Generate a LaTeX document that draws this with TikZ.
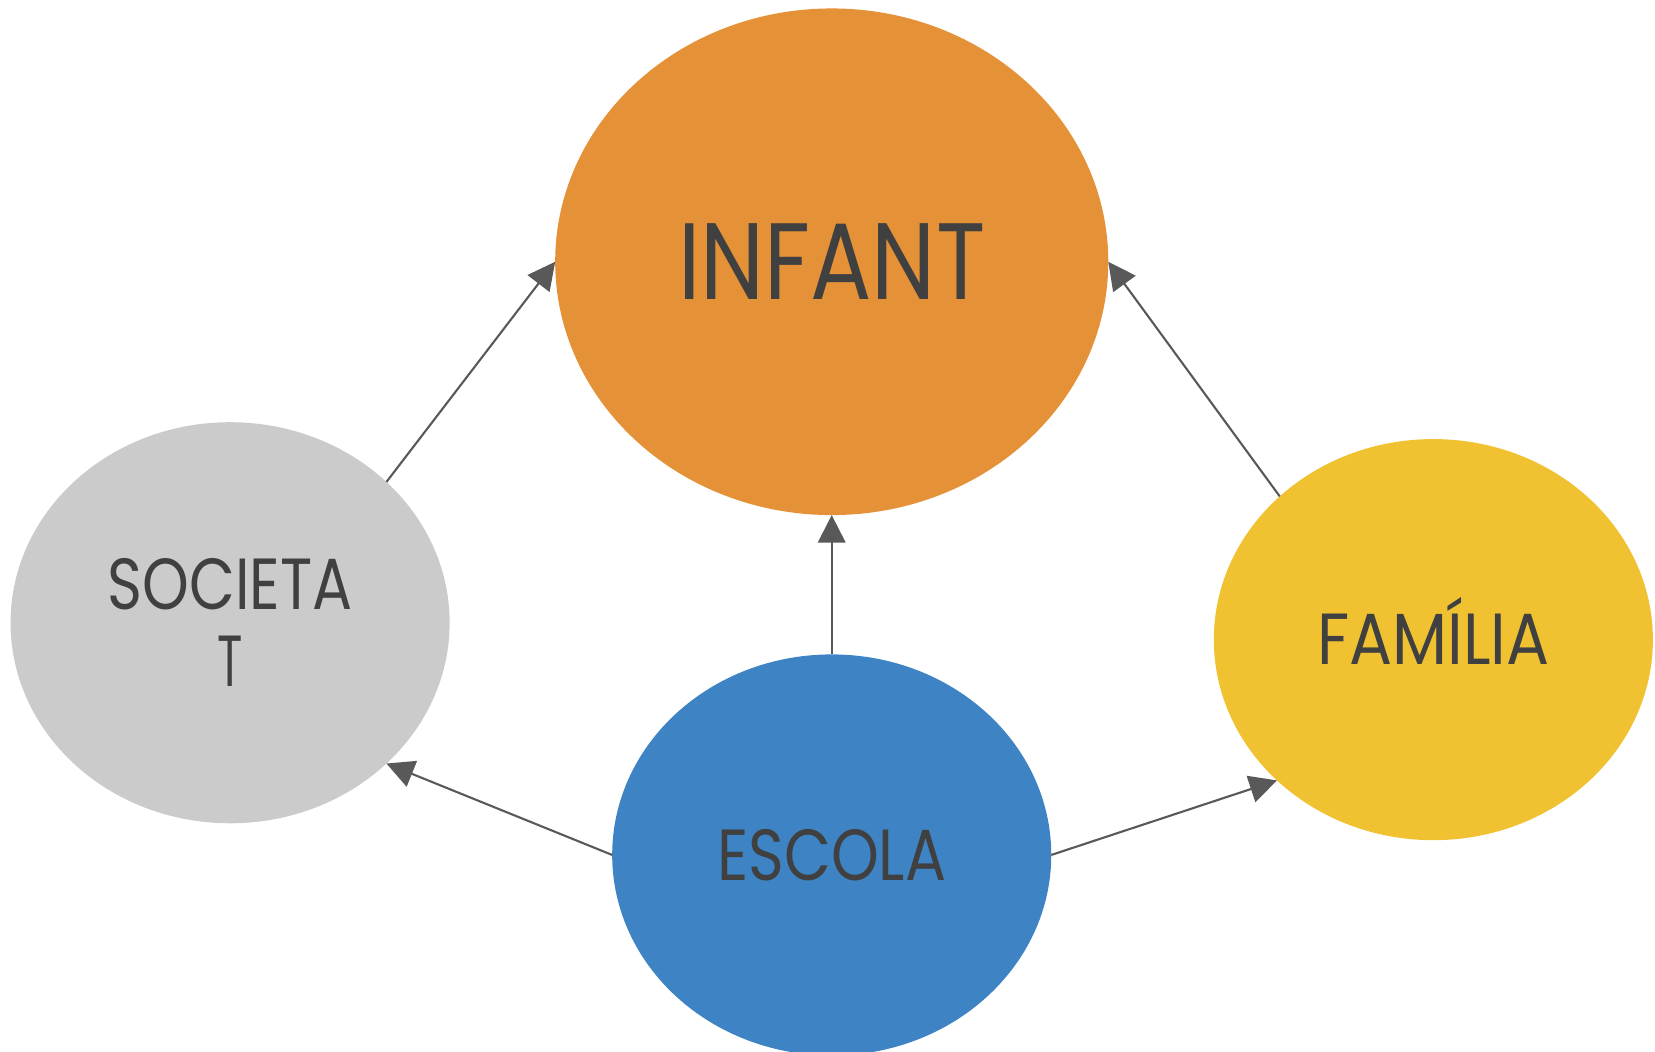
\documentclass[tikz,border=0pt]{standalone}
\usepackage{fontspec}
\setmainfont{Poppins}
\usetikzlibrary{shapes.geometric,arrows.meta}
\definecolor{corange}{HTML}{E59138}
\definecolor{cgray}{HTML}{CBCBCB}
\definecolor{cyellow}{HTML}{F0C232}
\definecolor{cblue}{HTML}{3E84C5}
\definecolor{ctxt}{HTML}{404040}
\definecolor{carr}{HTML}{595959}
\newcommand{\lab}[3]{\raisebox{0pt}[#2][0pt]{\resizebox{#1}{\height}{#3}}}
\begin{document}
\begin{tikzpicture}[x=1pt,y=-1pt,
  bub/.style={ellipse, inner sep=0pt, outer sep=0pt, text=ctxt, align=center},
  big/.style={bub, minimum width=524pt, minimum height=480pt, font=\fontsize{103}{110}\selectfont},
  small/.style={bub, minimum width=416pt, minimum height=380pt, font=\fontsize{68.6}{73}\selectfont},
  lnk/.style={draw=carr, line width=2pt, -{Triangle[length=26pt,width=26pt]}}]
\useasboundingbox (0,0) rectangle (1568,996);
\clip (0,0) rectangle (1568,996);
\node[big, fill=corange] (infant) at (788,248) {\lab{291pt}{72pt}{INFANT}};
\node[small, fill=cgray] (societat) at (218,590) {\lab{232pt}{48pt}{SOCIETA}\\\lab{24pt}{48pt}{T}};
\node[small, fill=cyellow] (familia) at (1358,606) {\lab{220pt}{48pt}{FAMÍLIA}};
\node[small, fill=cblue] (escola) at (788,810) {\lab{217pt}{48pt}{ESCOLA}};
\draw[lnk] (escola) -- (infant);
\draw[lnk] (societat.42.6) -- (infant.west);
\draw[lnk] (familia.137.4) -- (infant.east);
\draw[lnk] (escola.west) -- (societat.-42.6);
\draw[lnk] (escola.east) -- (familia.222.6);
\end{tikzpicture}
\end{document}
